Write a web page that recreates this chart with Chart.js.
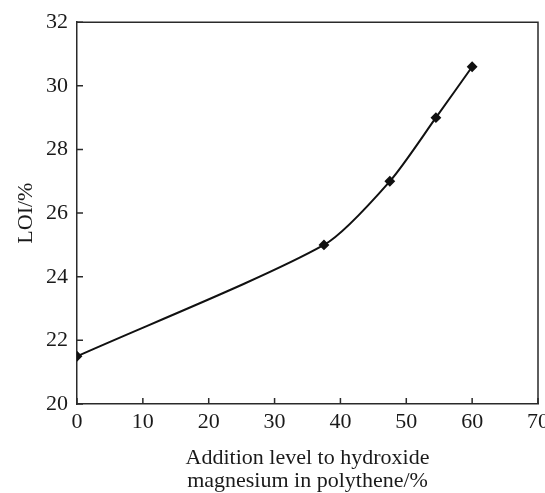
<!DOCTYPE html>
<html>
<head>
<meta charset="utf-8">
<script src="https://cdn.jsdelivr.net/npm/chart.js@4/dist/chart.umd.min.js"></script>
<style>
  html, body { margin: 0; padding: 0; background: #fff; overflow: hidden; }
  #wrap { width: 554px; height: 493px; }
</style>
</head>
<body>
<div id="wrap"><canvas id="c"></canvas></div>
<script>
const additionLevel = [0, 37.5, 47.5, 54.5, 60];
const loiValues = [21.5, 25, 27, 29, 30.6];
const xTickValues = [0, 10, 20, 30, 40, 50, 60, 70];
const yTickValues = [20, 22, 24, 26, 28, 30, 32];
const xTitle = ['Addition level to hydroxide', 'magnesium in polythene/%'];
const yTitle = 'LOI/%';

const FONT = 'Liberation Serif, Times New Roman, serif';
const AXIS_COLOR = '#2a2a2a';

const framePlugin = {
  id: 'frame',
  afterDatasetsDraw(chart) {
    const { ctx, chartArea: a, scales } = chart;
    ctx.save();
    ctx.strokeStyle = AXIS_COLOR;
    ctx.lineWidth = 1.5;
    ctx.beginPath();
    ctx.moveTo(a.left, a.top);
    ctx.lineTo(a.right, a.top);
    ctx.lineTo(a.right, a.bottom);
    ctx.stroke();
    // inward tick marks
    ctx.beginPath();
    scales.x.ticks.forEach(t => {
      const px = scales.x.getPixelForValue(t.value);
      ctx.moveTo(px, a.bottom);
      ctx.lineTo(px, a.bottom - 6);
    });
    scales.y.ticks.forEach(t => {
      const py = scales.y.getPixelForValue(t.value);
      ctx.moveTo(a.left, py);
      ctx.lineTo(a.left + 6, py);
    });
    ctx.stroke();
    ctx.restore();
  }
};

new Chart(document.getElementById('c'), {
  type: 'line',
  data: {
    datasets: [{
      data: additionLevel.map((x, i) => ({ x, y: loiValues[i] })),
      borderColor: '#111',
      backgroundColor: '#111',
      borderWidth: 2,
      pointStyle: 'rectRot',
      pointRadius: 4,
      pointBackgroundColor: '#111',
      pointBorderColor: '#111',
      tension: 0.25,
      fill: false
    }]
  },
  options: {
    responsive: true,
    maintainAspectRatio: false,
    animation: false,
    devicePixelRatio: 1,
    layout: { padding: { top: 12, left: 0, right: 0, bottom: 0 } },
    plugins: { legend: { display: false }, tooltip: { enabled: false } },
    scales: {
      x: {
        type: 'linear',
        min: 0, max: 70,
        afterBuildTicks(scale) { scale.ticks = xTickValues.map(v => ({ value: v })); },
        afterFit(scale) { scale.height = 89; },
        grid: { display: false, drawTicks: false },
        border: { display: true, color: AXIS_COLOR, width: 1.5 },
        ticks: { color: '#1a1a1a', padding: 5, font: { family: FONT, size: 22 }, maxRotation: 0, autoSkip: false },
        title: {
          display: true, text: xTitle, color: '#1a1a1a',
          font: { family: FONT, size: 22, lineHeight: 1.05 },
          padding: { top: 0, bottom: 0 }
        }
      },
      y: {
        type: 'linear',
        min: 20, max: 32,
        afterBuildTicks(scale) { scale.ticks = yTickValues.map(v => ({ value: v })); },
        afterFit(scale) { scale.width = 77; },
        grid: { display: false, drawTicks: false },
        border: { display: true, color: AXIS_COLOR, width: 1.5 },
        ticks: { color: '#1a1a1a', padding: 9, font: { family: FONT, size: 22 }, autoSkip: false },
        title: {
          display: true, text: yTitle, color: '#1a1a1a',
          font: { family: FONT, size: 22, lineHeight: 1.2 },
          padding: { top: 13, bottom: 0 }
        }
      }
    }
  },
  plugins: [framePlugin]
});
</script>
</body>
</html>
